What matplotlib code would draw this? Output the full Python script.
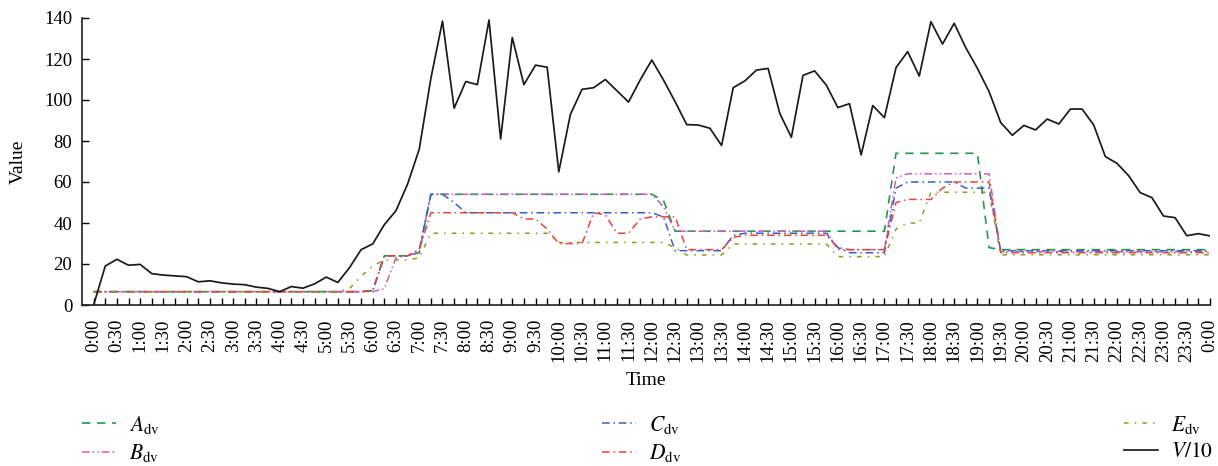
import matplotlib
matplotlib.use("Agg")
import matplotlib.pyplot as plt

plt.rcParams["font.family"] = ["Liberation Serif", "DejaVu Serif"]
plt.rcParams["mathtext.fontset"] = "stix"

# -----------------------------
# Data (15-min steps, 0:00 .. 0:00 next day)
# -----------------------------
tick_labels = [f"{(m // 60) % 24}:{m % 60:02d}" for m in range(0, 24 * 60 + 1, 30)]

v_div10 = [0, 19, 22.3, 19.4, 19.8, 15.3, 14.6, 14.2, 13.8, 11.3,
           11.8, 10.8, 10.2, 9.9, 8.7, 8.1, 6.5, 9.0, 8.2, 10.3,
           13.6, 11.0, 18.2, 27.0, 29.8, 39.2, 46.0, 59.0, 76.0, 110.5,
           138.5, 96.0, 109.0, 107.5, 139.0, 81.0, 130.5, 107.5, 117.0, 116.0,
           65.0, 93.0, 105.2, 106.0, 110.0, 104.5, 99.0, 109.8, 119.5, 109.8,
           99.2, 88.0, 87.8, 86.2, 77.8, 106.0, 109.3, 114.6, 115.4, 93.5,
           81.8, 112.0, 114.2, 107.3, 96.3, 98.2, 73.2, 97.3, 91.4, 115.8,
           123.6, 111.7, 138.2, 127.3, 137.4, 125.5, 115.4, 104.1, 89.0, 82.8,
           87.6, 85.4, 90.7, 88.3, 95.6, 95.6, 87.8, 72.4, 69.1, 63.1,
           54.8, 52.4, 43.4, 42.6, 33.8, 34.8, 33.7]

a_dv = [6.5] * 24 + [7, 24, 24, 24, 25.5] + [54] * 20 + [51] + [36] * 19 \
    + [74] * 8 + [28] + [27] * 19

b_dv = [6.5] * 25 + [8, 23, 24, 26] + [54] * 20 + [48] + [36] * 14 \
    + [27] * 5 + [62] + [64] * 8 + [26] * 19

c_dv = [6.5] * 24 + [7, 24, 24, 24, 27, 54, 54, 50] + [45] * 17 + [43] \
    + [26.5] * 5 + [34] + [35] * 8 + [28] + [25.5] * 4 + [57] + [60] * 5 \
    + [57] * 3 + [26.5] * 19

d_dv = [6.5] * 24 + [7, 24, 24, 24, 27] + [45] * 8 + [42, 42, 37, 30, 30, 30,
        45, 44, 35, 35, 42, 43, 43, 43] + [27] * 4 + [33] + [34] * 8 + [28] \
    + [27] * 4 + [50, 51.5, 51.5, 51.5, 57] + [60] * 4 + [25.5] * 19

e_dv = [6.5] * 22 + [8, 14, 19, 22, 22, 22, 23] + [35] * 11 + [30.5] * 10 \
    + [28] + [24.4] * 4 + [29.8] * 9 + [23.6] * 5 + [37, 40, 40] + [55] * 6 \
    + [24.5] * 19

x = list(range(len(v_div10)))

# -----------------------------
# Plot
# -----------------------------
fig = plt.figure(figsize=(12.18, 4.66), dpi=100)
ax = fig.add_axes([82 / 1218, 1 - 305 / 466, 1128 / 1218, 287 / 466])

ax.plot(x, a_dv, color="#1f9a4a", lw=1.2, ls=(0, (5, 4)), label=r"$A_{\mathrm{dv}}$")
ax.plot(x, b_dv, color="#c862b8", lw=1.1, ls=(0, (5, 2, 1, 2, 1, 2)), label=r"$B_{\mathrm{dv}}$")
ax.plot(x, c_dv, color="#3a5cc8", lw=1.1, ls=(0, (5, 2.5, 1, 2.5)), label=r"$C_{\mathrm{dv}}$")
ax.plot(x, d_dv, color="#e2463f", lw=1.1, ls=(0, (5, 2.5, 1, 2.5)), label=r"$D_{\mathrm{dv}}$")
ax.plot(x, e_dv, color="#8c9a2a", lw=1.1, ls=(0, (3, 4, 1, 4)), label=r"$E_{\mathrm{dv}}$")
ax.plot(x, v_div10, color="#1a1a1a", lw=1.25, label=r"$V/10$")

ax.set_xlim(-1, 96)
ax.set_ylim(0, 140)
ax.set_yticks(range(0, 141, 20))
ax.set_xticks(x)
ax.set_xticklabels([tick_labels[i // 2] if i % 2 == 0 else "" for i in x], rotation=90)

ax.tick_params(axis="x", direction="in", length=5, width=1, pad=10, labelsize=13.5)
ax.tick_params(axis="y", direction="in", length=5, width=1, pad=7, labelsize=13.5)
for s in ["top", "right"]:
    ax.spines[s].set_visible(False)
for s in ["left", "bottom"]:
    ax.spines[s].set_linewidth(1.2)
    ax.spines[s].set_color("#231f20")

ax.set_xlabel("Time", fontsize=14)
ax.xaxis.set_label_coords(0.5, -0.235)
ax.set_ylabel("Value", fontsize=14)
ax.yaxis.set_label_coords(-0.049, 0.5)

fig.legend(loc="center", ncol=3, mode="expand", frameon=False,
           bbox_to_anchor=(82 / 1218, 0.058, 1131 / 1218, 0),
           fontsize=15.5, handlelength=1.6, handletextpad=0.6,
           labelspacing=0.3, borderpad=0, borderaxespad=0)

fig.savefig("out.png", dpi=100)
